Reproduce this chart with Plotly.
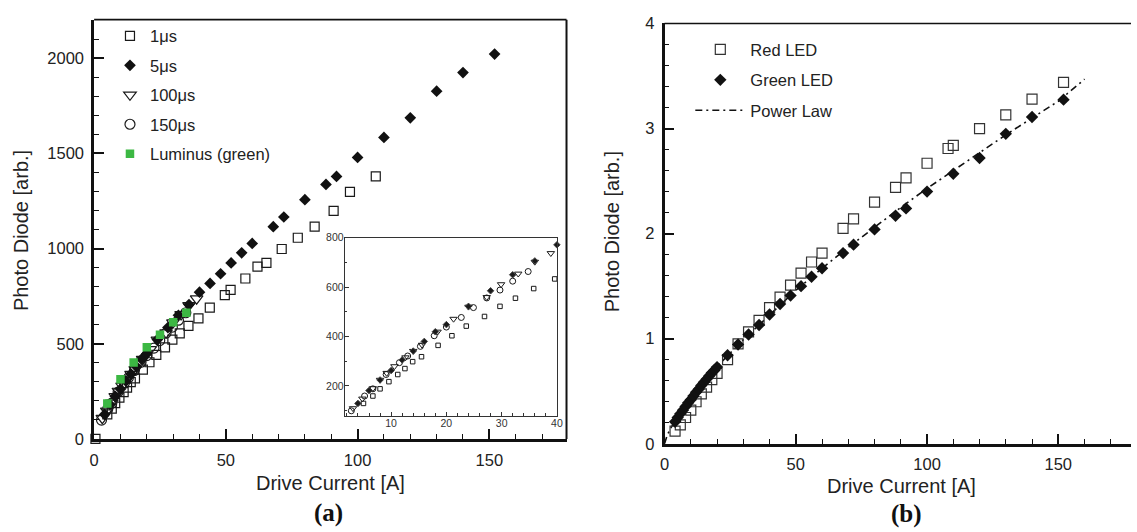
import plotly.graph_objects as go

# ---------------- data: panel (a) ----------------
us1_x = [0.5, 5, 6.7, 8, 9.6, 11.2, 12.5, 13.9, 15.5, 18.5, 21, 23.6, 26.9, 29.7, 32.5,
         35.8, 39.6, 43.9, 49.6, 51.8, 57.4, 62, 65.4, 71.2, 77.3, 83.7, 90.9, 97.1, 106.9]
us1_y = [0, 129, 159, 188, 217, 246, 270, 298, 318, 364, 403, 442, 481, 522, 555,
         594, 633, 690, 756, 783, 843, 905, 925, 998, 1057, 1115, 1198, 1298, 1379]

us5_x = [4, 6, 8, 10, 12, 14, 16, 18, 20, 24, 28, 32, 36, 40, 44, 48, 52, 56, 60,
         68, 72, 80, 88, 92, 100, 110, 120, 130, 140, 152]
us5_y = [129, 181, 224, 262, 305, 341, 380, 419, 448, 522, 585, 650, 706, 771, 817, 868, 925, 978, 1027,
         1115, 1166, 1257, 1337, 1379, 1479, 1584, 1687, 1827, 1925, 2022]

us100_x = [3.1, 4.8, 6.7, 8, 9.2, 10.6, 12.6, 14, 15.6, 18.4, 21.3, 24, 27.3, 29.9, 33, 36, 38.9]
us100_y = [109, 148, 190, 224, 252, 279, 315, 341, 366, 419, 471, 520, 559, 611, 654, 702, 737]

us150_x = [2.8, 5.2, 6.7, 9.1, 11.5, 13, 15.3, 17.8, 20, 22.7, 24.9, 27.3, 29.7, 32, 34.8]
us150_y = [99, 159, 188, 246, 294, 321, 360, 403, 438, 477, 517, 556, 588, 624, 663]

lum_x = [5, 10, 15, 20, 25, 30, 35]
lum_y = [186, 313, 401, 482, 547, 613, 663]

# ---------------- data: panel (b) ----------------
red_x = [4, 6, 8, 10, 12, 14, 16, 18, 20, 24, 28, 32, 36, 40, 44, 48, 52, 56, 60,
         68, 72, 80, 88, 92, 100, 108, 110, 120, 130, 140, 152]
red_y = [0.12, 0.18, 0.25, 0.32, 0.40, 0.475, 0.54, 0.61, 0.67, 0.80, 0.95, 1.065, 1.175, 1.295,
         1.395, 1.51, 1.625, 1.73, 1.815, 2.05, 2.14, 2.30, 2.44, 2.53, 2.67, 2.81, 2.84,
         3.00, 3.13, 3.28, 3.44]

grn_x = [4, 5, 6, 7, 8, 9, 10, 11, 12, 13, 14, 15, 16, 17, 18, 19, 20, 24, 28, 32, 36, 40,
         44, 48, 52, 56, 60, 68, 72, 80, 88, 92, 100, 110, 120, 130, 140, 152]
grn_y = [0.21, 0.25, 0.285, 0.32, 0.355, 0.39, 0.42, 0.455, 0.49, 0.52, 0.555, 0.585, 0.615,
         0.645, 0.675, 0.70, 0.73, 0.843, 0.945, 1.04, 1.13, 1.23, 1.33, 1.41, 1.50, 1.59,
         1.67, 1.815, 1.895, 2.04, 2.17, 2.24, 2.40, 2.57, 2.72, 2.95, 3.11, 3.275]

# power-law curve, values
pl_x = [0, 1, 2, 5, 10, 15, 20, 30, 40, 50, 60, 70, 80, 90, 100, 110, 120, 130, 140, 150, 160]
pl_y = [0.0, 0.08, 0.133, 0.263, 0.44, 0.59, 0.735, 0.99, 1.23, 1.46, 1.67, 1.87, 2.06, 2.25,
        2.43, 2.60, 2.77, 2.94, 3.10, 3.26, 3.47]

# ---------------- layout helpers ----------------
W, H = 1137, 532
FONT = "Liberation Sans, Arial, sans-serif"
SERIF = "Liberation Serif, Times New Roman, serif"


def fx(p):
    return p / W


def fy(p):
    return (H - p) / H


fig = go.Figure()

ink = "#1a1a1a"

# ----- panel (a) main -----
fig.add_trace(go.Scatter(x=us1_x, y=us1_y, mode="markers", name="1\u03bcs", legend="legend",
                         legendrank=1, legendgroup="a1", cliponaxis=False,
                         marker=dict(symbol="square-open", size=9, color=ink, line=dict(width=1.2)),
                         xaxis="x", yaxis="y"))
fig.add_trace(go.Scatter(x=us100_x, y=us100_y, mode="markers", name="100\u03bcs", legend="legend",
                         legendrank=3, legendgroup="a3",
                         marker=dict(symbol="triangle-down-open", size=11, color=ink, line=dict(width=1.2)),
                         xaxis="x", yaxis="y"))
fig.add_trace(go.Scatter(x=us150_x, y=us150_y, mode="markers", name="150\u03bcs", legend="legend",
                         legendrank=4, legendgroup="a4",
                         marker=dict(symbol="circle-open", size=10, color=ink, line=dict(width=1.2)),
                         xaxis="x", yaxis="y"))
fig.add_trace(go.Scatter(x=us5_x, y=us5_y, mode="markers", name="5\u03bcs", legend="legend",
                         legendrank=2, legendgroup="a2",
                         marker=dict(symbol="diamond", size=9, color="#111111"),
                         xaxis="x", yaxis="y"))
fig.add_trace(go.Scatter(x=lum_x, y=lum_y, mode="markers", name="Luminus (green)", legend="legend",
                         legendrank=5, legendgroup="a5",
                         marker=dict(symbol="square", size=8.5, color="#3CB843"),
                         xaxis="x", yaxis="y"))

# ----- panel (a) inset -----
XMAX_IN = 40.5


def clip(xs, ys):
    pts = [(a, b) for a, b in zip(xs, ys) if 1.6 <= a <= XMAX_IN]
    return [p[0] for p in pts], [p[1] for p in pts]


for xs, ys, sym, sz in [(us1_x, us1_y, "square-open", 4.5),
                        (us100_x, us100_y, "triangle-down-open", 6.5),
                        (us150_x, us150_y, "circle-open", 6),
                        (us5_x, us5_y, "diamond", 5)]:
    cx, cy = clip(xs, ys)
    fig.add_trace(go.Scatter(x=cx, y=cy, mode="markers", showlegend=False, cliponaxis=False,
                             marker=dict(symbol=sym, size=sz, color=ink, line=dict(width=1)),
                             xaxis="x2", yaxis="y2"))

# ----- panel (b) -----
fig.add_trace(go.Scatter(x=pl_x, y=pl_y, mode="lines", name="Power Law", legend="legend2",
                         legendrank=3, legendgroup="b3",
                         line=dict(color="#111111", width=1.6, dash="7px,4px,2px,4px"),
                         xaxis="x3", yaxis="y3"))
fig.add_trace(go.Scatter(x=red_x, y=red_y, mode="markers", name="Red LED", legend="legend2",
                         legendrank=1, legendgroup="b1",
                         marker=dict(symbol="square-open", size=10, color="#333333", line=dict(width=1.2)),
                         xaxis="x3", yaxis="y3"))
fig.add_trace(go.Scatter(x=grn_x, y=grn_y, mode="markers", name="Green LED", legend="legend2",
                         legendrank=2, legendgroup="b2",
                         marker=dict(symbol="diamond", size=9.5, color="#111111"),
                         xaxis="x3", yaxis="y3"))

tickfont = dict(family=FONT, size=16.5, color="#222222")
small_font = dict(family=FONT, size=10.5, color="#333333")


def main_axis(domain, rng, dtick, minor_dtick, standoff, **kw):
    d = dict(domain=domain, range=rng, tick0=0, dtick=dtick, ticks="inside", ticklen=10,
             tickwidth=2.2, tickcolor="#111111", showline=True, linewidth=2.6, linecolor="#111111",
             showgrid=False, zeroline=False, tickfont=tickfont, ticklabelstandoff=standoff,
             minor=dict(dtick=minor_dtick, ticks="inside", ticklen=5, tickwidth=1.1,
                        tickcolor="#111111", showgrid=False))
    d.update(kw)
    return d


def label(text, x, y, size=20, angle=0, family=FONT, color="#222222"):
    return dict(text=text, x=fx(x), y=fy(y), xref="paper", yref="paper", textangle=angle,
                xanchor="center", yanchor="middle", showarrow=False,
                font=dict(family=family, size=size, color=color))


layout = dict(
    width=W, height=H, margin=dict(l=0, r=0, t=0, b=0),
    paper_bgcolor="white", plot_bgcolor="rgba(0,0,0,0)",
    xaxis=main_axis([fx(90), fx(567)], [0, 179.3], 50, 10, 4, anchor="y"),
    yaxis=main_axis([fy(445), fy(11)], [0, 2203], 500, 100, 4, anchor="x"),
    xaxis2=dict(domain=[fx(343), fx(557.3)], range=[1.6, 40], tick0=0, dtick=10, anchor="y2",
                ticks="inside", ticklen=4, tickwidth=1, tickcolor="#333333",
                showline=True, mirror=True, linewidth=1, linecolor="#333333",
                showgrid=False, zeroline=False, tickfont=small_font, ticklabelstandoff=-2,
                minor=dict(dtick=2, ticks="inside", ticklen=2.5, tickwidth=0.8, tickcolor="#333333")),
    yaxis2=dict(domain=[fy(421), fy(236.7)], range=[79, 800], tick0=0, dtick=200, anchor="x2",
                ticks="inside", ticklen=4, tickwidth=1, tickcolor="#333333",
                showline=True, mirror=True, linewidth=1, linecolor="#333333",
                showgrid=False, zeroline=False, tickfont=small_font, ticklabelstandoff=-2,
                minor=dict(dtick=100, ticks="inside", ticklen=2.5, tickwidth=0.8, tickcolor="#333333")),
    xaxis3=main_axis([fx(666), 1.0], [0, 177.7], 50, 10, 4, anchor="y3"),
    yaxis3=main_axis([fy(450), fy(15)], [0, 4], 1, 0.2, 4, anchor="x3"),
    legend=dict(x=fx(106), y=fy(10), xanchor="left", yanchor="top", bgcolor="rgba(0,0,0,0)",
                font=dict(family=FONT, size=16.5, color="#222222"), tracegroupgap=5,
                itemwidth=30, traceorder="grouped"),
    legend2=dict(x=fx(692), y=fy(24), xanchor="left", yanchor="top", bgcolor="rgba(0,0,0,0)",
                 font=dict(family=FONT, size=16.5, color="#222222"), tracegroupgap=6,
                 itemwidth=50, traceorder="grouped"),
    shapes=[
        # panel (a) top and right frame
        dict(type="line", xref="x domain", yref="y domain", x0=0, x1=1, y0=1, y1=1,
             line=dict(color="#111111", width=1.6)),
        dict(type="line", xref="x domain", yref="y domain", x0=1, x1=1, y0=0, y1=1,
             line=dict(color="#111111", width=2)),
        # panel (b) top frame
        dict(type="line", xref="x3 domain", yref="y3 domain", x0=0, x1=1, y0=1, y1=1,
             line=dict(color="#111111", width=1.6)),
    ],
    annotations=[
        label("Photo Diode [arb.]", 16, 229, angle=-90),
        label("Drive Current [A]", 329, 491),
        label("Photo Diode [arb.]", 613, 231, angle=-90),
        label("Drive Current [A]", 905, 494),
        label("<b>(a)</b>", 327, 522, size=25, family=SERIF, color="#111111"),
        label("<b>(b)</b>", 910, 523, size=25, family=SERIF, color="#111111"),
    ],
)
fig.update_layout(**layout)

fig.write_html("out.html")
